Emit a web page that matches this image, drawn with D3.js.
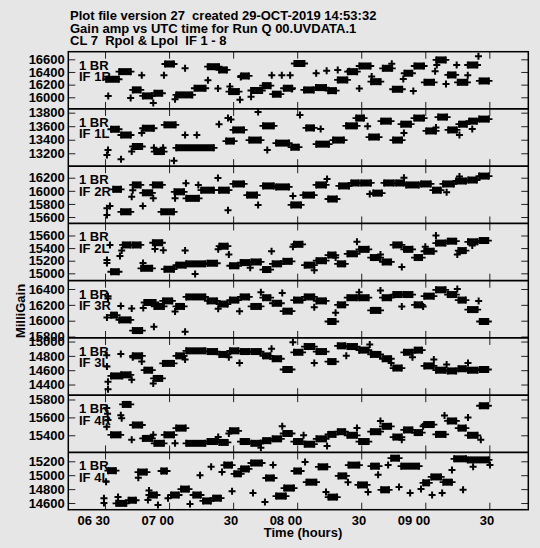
<!DOCTYPE html>
<html><head><meta charset="utf-8">
<script src="https://cdn.jsdelivr.net/npm/d3@7"></script>
<style>
html,body{margin:0;padding:0;background:#e6e6e6;}
svg{display:block;}
text{font-family:"Liberation Sans",Arial,Helvetica,sans-serif;font-weight:bold;fill:#000;}
</style></head><body>
<svg id="c" width="540" height="548"></svg>
<script>
const titleLines = [
  "Plot file version 27  created 29-OCT-2019 14:53:32",
  "Gain amp vs UTC time for Run Q 00.UVDATA.1",
  "CL 7  Rpol & Lpol  IF 1 - 8"
];
const baselineLabel = "1 BR";
const panelLabels = ["IF 1R","IF 1L","IF 2R","IF 2L","IF 3R","IF 3L","IF 4R","IF 4L"];
const yAxisTitle = "MilliGain";
const xAxisTitle = "Time (hours)";
// time in minutes after 00:00 UTC
const timeDomain = [372.8, 588.25];
const timeTicks = [390, 420, 450, 480, 510, 540, 570];
const timeTickLabels = ["06 30","07 00","30","08 00","30","09 00","30"];
// scan boundaries (minutes) used for the later scans of IF 2L..4R
const scanGrid = [437.5,443,448,453,458,463.5,468,473,478,483,488.5,494,498.5,503,508.5,514,519.5,524.5,529.5,534.5,539,544.5,550,555,559.5,565,570];

// ---- IF 1R ----
const if1rTicks = [16000,16200,16400,16600];
const if1rRange = [15816,16720];
const if1rScans = [[390,397,16285],[396.1,402.6,16405],[402.5,407.2,16117],[407.2,412.6,16022],[412.6,417.3,16064],[417.6,422.8,16526],[422.8,431.4,16038],[431.4,437.6,16143],[437.6,443.9,16483],[442.9,447.6,16432],[447.6,453.2,16090],[453.2,457.9,16337],[457.9,464.1,16107],[463.4,468.1,16184],[468.1,472.8,16049],[473.2,478.2,16143],[478.2,483.9,16534],[482.7,488.3,16116],[488.3,494,16153],[494,498.7,16105],[498.5,504,16274],[503.2,508.6,16405],[508.6,514.9,16494],[514.1,519.6,16247],[519.6,525,16458],[524.3,529.7,16127],[529.7,534.4,16380],[534.4,539.9,16494],[539.1,544.6,16237],[544.6,550.1,16590],[550.1,554.7,16353],[554.7,560.2,16237],[559.4,564.9,16510],[564.9,570.3,16258]];
const if1rPoints = [[391.5,16020],[402,15990],[407.2,16350],[412.6,15910],[417.6,16350],[422.8,15970],[427.5,16460],[438.2,16270],[442.9,16140],[448.5,16170],[453.2,15960],[453.6,16320],[458.4,16010],[468.1,16350],[472.8,16350],[476.7,16350],[477.5,16130],[488.9,16380],[493.8,16420],[499,16430],[504.4,16410],[509.1,16140],[514.9,16330],[524.3,16530],[529.7,16290],[534.4,16100],[544.6,16410],[545.4,16510],[549.7,16210],[554.7,16510],[559.9,16350],[564.9,16650]];
const if1rLate = [];

// ---- IF 1L ----
const if1lTicks = [13200,13400,13600,13800];
const if1lRange = [13009,13855];
const if1lScans = [[392.3,397,13555],[397,402.6,13470],[402.5,407.9,13300],[407.2,413.4,13570],[412.6,418.1,13225],[417.3,423.6,13620],[422.8,441.5,13280],[446.2,450.9,13380],[449.5,455.6,13545],[457,463.5,13395],[463.5,469.6,13605],[469.6,476.7,13350],[476.7,481.3,13290],[483.7,488.4,13575],[488.4,495.4,13335],[496.3,502.4,13395],[502.4,508.5,13605],[507.1,511.8,13720],[513.2,518.8,13440],[518.8,524.4,13675],[524.4,529.6,13395],[528.2,533.8,13630],[534.3,539.9,13720],[539.9,545.5,13530],[545.5,550.7,13735],[550.2,555.3,13545],[555.3,560,13630],[560,564.7,13675],[564.7,570.3,13705]];
const if1lPoints = [[391.4,13250],[390.9,13175],[397.5,13110],[402.5,13225],[407.2,13500],[412.9,13280],[417.2,13280],[422.3,13090],[427.5,13470],[433,13470],[443.4,13630],[447.6,13720],[449,13700],[461.7,13810],[481.3,13765],[466,13250],[491,13560],[513,13600],[530,13500],[545,13580],[556,13470],[562,13560]];
const if1lLate = [];

// ---- IF 2R ----
const if2rTicks = [15600,15800,16000,16200];
const if2rRange = [15502,16376];
const if2rScans = [[393.3,398,16023],[397,402.5,15680],[402.5,407.2,16090],[407.2,412.6,15970],[411.9,417.3,16090],[415.8,422.8,15680],[422,427.5,15985],[427.5,434.5,15885],[434.5,441.5,16010],[442.9,448.5,16010],[449.5,455.6,16105],[456,461.7,15935],[463.5,469.6,16075],[469.6,476.7,16060],[476.7,482.3,15785],[482.3,488.4,15935],[488.4,494,16090],[494,499.1,15875],[499.1,504.8,16075],[504.8,509.4,16120],[509.4,515.1,16120],[515.1,520.2,15965],[520.2,525.8,16120],[525.8,530.5,16120],[530.5,537.5,16090],[537.5,543.1,16105],[543.1,547.8,16010],[547.8,553.9,16105],[553.9,559.6,16150],[559.6,564.7,16165],[564.7,570.3,16225]];
const if2rPoints = [[390.9,15735],[390.9,15630],[392.3,15770],[402.5,15910],[403,16010],[407.7,15770],[412.6,15885],[422.8,15885],[427.9,16115],[433.7,16090],[442.9,16195],[447.6,15705],[461.7,15785],[478,15920],[494,16180],[514,15950],[530,16200],[550,15980],[556,16220]];
const if2rLate = [];

// ---- IF 2L ----
const if2lTicks = [15000,15200,15400,15600];
const if2lRange = [14883,15791];
const if2lScans = [[392.3,397,15025],[397.8,402.5,15450],[402.5,407.2,15450],[406.4,412.6,15080],[411.9,417.3,15485],[417.3,422.8,15065],[422.8,428.3,15130],[427.5,437.5,15150]];
const if2lPoints = [[392.3,15450],[390.9,15210],[390.9,15165],[397,15275],[397.8,15360],[407.8,15165],[413.4,15385],[417.3,15365],[427.5,15360],[432.2,14990],[443,15380],[448,15300],[458,15090],[468,15350],[478,15420],[488,15050],[498,15250],[508,15500],[519,15300],[529,15100],[540,15420],[545,15600],[555,15300],[562,15440]];
const if2lLate = [15160,15430,15120,15170,15180,15060,15150,15190,15460,15130,15200,15290,15150,15310,15380,15250,15180,15450,15380,15250,15350,15480,15510,15360,15500,15520];

// ---- IF 3R ----
const if3rTicks = [15800,16000,16200,16400];
const if3rRange = [15782,16505];
const if3rScans = [[392.3,396.1,16070],[396.1,402.5,16010],[402.5,407.9,15875],[407.9,414.2,16230],[412.6,418.1,16180],[416.6,422,16250],[422.8,427.5,16180],[427.5,437.5,16300]];
const if3rPoints = [[391.4,16310],[391.4,16280],[390.9,16040],[397.4,16185],[402.5,16155],[407.9,16160],[412.9,15925],[422.8,16115],[427.5,15860],[443,16150],[453,16120],[463,16360],[473,16350],[488,16170],[498,16100],[509,16360],[519,16380],[529,16180],[539,16180],[555,16400],[565,16250]];
const if3rLate = [16250,16210,16260,16300,16180,16290,16220,16120,16260,16300,16250,15990,16200,16290,16290,16130,16290,16330,16330,16200,16310,16390,16330,16260,16140,15990];

// ---- IF 3L ----
const if3lTicks = [14400,14600,14800,15000];
const if3lRange = [14251,15050];
const if3lScans = [[392.3,398.6,14520],[397,402.5,14535],[402.5,407.9,14800],[407.9,412.6,14600],[412.3,417.3,14485],[416.6,422.8,14695],[422.8,427.5,14800],[427.5,437.5,14870]];
const if3lPoints = [[391.4,14440],[391.4,14335],[390.9,14650],[390.8,14810],[397.4,14825],[403,14780],[402.5,14465],[407.2,14720],[412.6,14415],[427.5,14750],[448,14780],[453,14700],[468,14900],[478,14990],[488,14700],[503,14800],[514,14960],[524,14700],[534,14780],[544,14750],[550,14680],[560,14700]];
const if3lLate = [14860,14820,14870,14860,14860,14800,14760,14610,14850,14930,14860,14720,14940,14930,14880,14820,14760,14630,14850,14880,14660,14600,14590,14620,14600,14610];

// ---- IF 4R ----
const if4rTicks = [15400,15600,15800];
const if4rRange = [15208,15848];
const if4rScans = [[392.3,397.8,15405],[397.8,402.5,15745],[402.5,407.9,15515],[407.2,412.6,15365],[412.6,418.1,15310],[417.3,422.8,15405],[422.8,428.3,15480],[427.5,437.5,15310]];
const if4rPoints = [[390.8,15705],[391.2,15640],[391.4,15570],[390.8,15495],[397.4,15625],[397.8,15590],[402.5,15350],[412.6,15405],[422.8,15310],[443,15380],[448,15420],[463,15260],[473,15500],[483,15400],[494,15280],[508,15480],[519,15560],[529,15350],[539,15500],[549,15620],[560,15600],[566,15350]];
const if4rLate = [15330,15320,15450,15330,15310,15340,15360,15420,15330,15300,15360,15410,15440,15400,15330,15440,15500,15380,15460,15430,15520,15410,15560,15480,15400,15730];

// ---- IF 4L ----
const if4lTicks = [14600,14800,15000,15200];
const if4lRange = [14504,15327];
const if4lScans = [[390.9,395.6,15065],[394.7,400.5,14595],[400.5,405,14640],[405,410.1,15045],[410.1,414.8,14715],[415.8,419.5,15060],[420.4,425.1,14715],[425.1,429.8,14800],[430.8,435.4,14715],[435.4,440.1,14630],[440.1,444.8,14670],[445.3,450,15145],[450,454.2,15020],[453.2,457.9,15090],[457.9,464,15175],[464.9,469.6,14960],[469.6,475.2,14700],[473.4,479,14815],[478.1,482.3,15060],[483.8,489.5,14900],[489.5,494.6,15120],[494.1,499.2,14685],[498.8,503.5,14990],[503.5,509.6,15145],[508,513.2,14860],[514.1,518.8,15130],[518.8,523.5,14790],[523.5,528.2,15245],[528.2,537.6,15130],[538.5,542.3,14890],[542.3,547.9,14975],[547.9,553,14900],[553,559.6,15235],[559.4,570.3,15220]];
const if4lPoints = [[389.5,14670],[389.5,14600],[390.5,14905],[396.1,14685],[405.6,14965],[410.1,14645],[410.6,14780],[414.8,14570],[419.5,14670],[429.8,14585],[434.5,15000],[439.7,15120],[444.8,15045],[449.5,14770],[459.3,14745],[464.9,14615],[468.7,15145],[483.7,15190],[493.5,14760],[503.8,14900],[513.2,14760],[517.9,15005],[522.6,15145],[527.7,14830],[532.9,14745],[538,14800],[543.2,14715],[547.9,14745],[552.5,15075],[557.7,14790],[562.4,15120],[570.3,15145]];
const if4lLate = [];

const panels = [
  {label: panelLabels[0], ticks: if1rTicks, range: if1rRange, scans: if1rScans, points: if1rPoints, late: if1rLate},
  {label: panelLabels[1], ticks: if1lTicks, range: if1lRange, scans: if1lScans, points: if1lPoints, late: if1lLate},
  {label: panelLabels[2], ticks: if2rTicks, range: if2rRange, scans: if2rScans, points: if2rPoints, late: if2rLate},
  {label: panelLabels[3], ticks: if2lTicks, range: if2lRange, scans: if2lScans, points: if2lPoints, late: if2lLate},
  {label: panelLabels[4], ticks: if3rTicks, range: if3rRange, scans: if3rScans, points: if3rPoints, late: if3rLate},
  {label: panelLabels[5], ticks: if3lTicks, range: if3lRange, scans: if3lScans, points: if3lPoints, late: if3lLate},
  {label: panelLabels[6], ticks: if4rTicks, range: if4rRange, scans: if4rScans, points: if4rPoints, late: if4rLate},
  {label: panelLabels[7], ticks: if4lTicks, range: if4lRange, scans: if4lScans, points: if4lPoints, late: if4lLate}
];

const svg = d3.select("#c");
const L = 68.3, R = 528.3, T = 51.7, B = 509.7;
const ph = (B - T) / panels.length;
const x = d3.scaleLinear().domain(timeDomain).range([L, R]);

svg.append("rect").attr("width",540).attr("height",548).attr("fill","#e6e6e6");

svg.selectAll("text.title").data(titleLines).join("text")
  .attr("class","title").attr("x",70).attr("y",(d,i)=>20+i*12.5)
  .attr("font-size",13).attr("xml:space","preserve").style("white-space","pre").text(d=>d);

function cross(px, py, s){ return `M${px-s},${py}h${2*s}M${px},${py-s}v${2*s}`; }

panels.forEach((p, i) => {
  const y0 = T + i*ph, y1 = y0 + ph;
  const y = d3.scaleLinear().domain(p.range).range([y1, y0]);
  const g = svg.append("g");

  const la = g.append("g").attr("transform",`translate(${L},0)`)
    .call(d3.axisLeft(y).tickValues(p.ticks).tickSize(-7).tickPadding(3.5).tickFormat(d3.format("d")));
  la.select(".domain").remove();
  la.selectAll("line").attr("stroke","#222");
  la.selectAll("text").attr("font-size",13).attr("font-family","Liberation Sans, Arial, sans-serif").attr("font-weight","bold").attr("fill","#000");
  const ra = g.append("g").attr("transform",`translate(${R},0)`)
    .call(d3.axisRight(y).tickValues(p.ticks).tickSize(-7).tickFormat(""));
  ra.select(".domain").remove();
  ra.selectAll("line").attr("stroke","#222");
  const ta = g.append("g").attr("transform",`translate(0,${y0})`)
    .call(d3.axisBottom(x).tickValues(timeTicks).tickSize(7).tickFormat(""));
  ta.select(".domain").remove(); ta.selectAll("line").attr("stroke","#222");
  const ba = g.append("g").attr("transform",`translate(0,${y1})`)
    .call(d3.axisTop(x).tickValues(timeTicks).tickSize(7).tickFormat(""));
  ba.select(".domain").remove(); ba.selectAll("line").attr("stroke","#222");

  g.append("text").attr("x",79).attr("y",y0+18).attr("font-size",13).text(baselineLabel);
  g.append("text").attr("x",79).attr("y",y0+29.5).attr("font-size",13).text(p.label);

  const lateScans = p.late.map((v, j) => [scanGrid[j], scanGrid[j+1], v]);
  const scans = p.scans.concat(lateScans);

  g.selectAll("line.scan").data(scans).join("line").attr("class","scan")
    .attr("x1",d=>x(d[0])+1).attr("x2",d=>x(d[1])-1)
    .attr("y1",d=>y(d[2])).attr("y2",d=>y(d.length>3?d[3]:d[2]))
    .attr("stroke","#000").attr("stroke-width",7);
  g.selectAll("path.scanend").data(scans).join("path").attr("class","scanend")
    .attr("d",d=>cross(x(d[0])+1,y(d[2]),3.5)+cross(x(d[1])-1,y(d.length>3?d[3]:d[2]),3.5))
    .attr("stroke","#000").attr("stroke-width",1.8).attr("fill","none");
  g.selectAll("path.pt").data(p.points).join("path").attr("class","pt")
    .attr("d",d=>cross(x(d[0]),y(d[1]),3.5))
    .attr("stroke","#000").attr("stroke-width",2).attr("fill","none");

  if (i>0) g.append("line").attr("x1",L).attr("x2",R).attr("y1",y0).attr("y2",y0).attr("stroke","#000").attr("stroke-width",1.8);
});

svg.append("rect").attr("x",L).attr("y",T).attr("width",R-L).attr("height",B-T)
  .attr("fill","none").attr("stroke","#000").attr("stroke-width",1.5);

svg.selectAll("text.xt").data(timeTicks).join("text").attr("class","xt")
  .attr("x",d=>x(d)+5).attr("y",525).attr("text-anchor","end").attr("font-size",13)
  .attr("xml:space","preserve").style("white-space","pre")
  .text((d,i)=>timeTickLabels[i]);

svg.append("text").attr("x",303).attr("y",537).attr("text-anchor","middle").attr("font-size",13).text(xAxisTitle);
svg.append("text").attr("transform","translate(25,311) rotate(-90)").attr("text-anchor","middle").attr("font-size",13).text(yAxisTitle);
</script>
</body></html>
